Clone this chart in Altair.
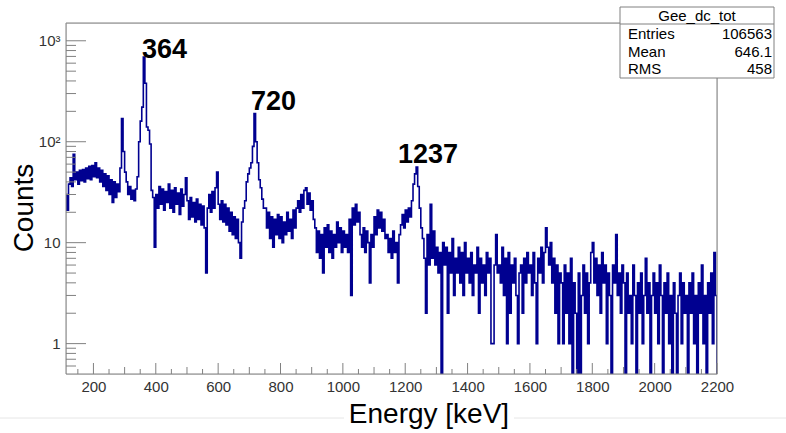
import altair as alt
import pandas as pd

# ---------------- data (5 keV bins) ----------------
BIN_START = 110
BIN_WIDTH = 5
X_MIN, X_MAX = 112, 2200
Y_MIN, Y_MAX = 0.5, 1500

counts_0100 = [30, 21, 38, 44, 36, 75, 42, 50, 38, 52, 41, 53, 40, 55, 43, 57, 42, 58]
counts_0200 = [45, 62, 44, 55, 40, 52, 36, 48, 33, 46, 30, 42, 25, 40, 28, 38, 32, 55, 170, 80]
counts_0300 = [50, 40, 30, 36, 27, 33, 26, 34, 45, 100, 160, 220, 690, 380, 140, 130, 95, 33, 28, 9]
counts_0400 = [30, 22, 36, 24, 34, 21, 32, 25, 38, 22, 33, 20, 35, 24, 31, 19, 34, 23, 30, 44]
counts_0500 = [26, 17, 28, 18, 25, 16, 27, 17, 24, 15, 23, 14, 5, 22, 30, 20, 32, 22, 35, 50]
counts_0600 = [24, 17, 26, 16, 24, 15, 22, 13, 20, 12, 18, 11, 17, 10, 7, 16, 22, 26, 40, 48]
counts_0700 = [55, 62, 90, 190, 100, 62, 42, 35, 27, 22, 22, 14, 20, 11, 18, 9, 17, 12, 19, 11]
counts_0800 = [18, 10, 16, 12, 20, 13, 17, 11, 21, 14, 22, 26, 20, 30, 22, 33, 35, 24, 31, 21]
counts_0900 = [26, 17, 14, 8, 13, 7, 12, 5, 14, 9, 15, 8, 13, 7, 12, 9, 16, 10, 14, 8]
counts_1000 = [13, 9, 12, 8, 17, 3, 22, 15, 24, 16, 20, 12, 9, 14, 8, 13, 10, 4, 12, 9]
counts_1100 = [18, 12, 21, 14, 20, 13, 17, 11, 12, 8, 11, 7, 13, 8, 10, 4, 12, 15, 19, 14]
counts_1200 = [21, 16, 22, 18, 26, 38, 48, 56, 36, 22, 14, 11, 7, 2, 12, 6, 24, 7, 13, 6]
counts_1300 = [9, 5, 8, 0, 10, 6, 9, 2, 8, 5, 11, 3, 7, 5, 9, 4, 8, 3, 10, 5]
counts_1400 = [7, 4, 8, 3, 6, 5, 9, 2, 7, 4, 6, 3, 8, 5, 7, 1, 1, 6, 12, 5]
counts_1500 = [6, 4, 9, 3, 7, 1, 8, 2, 6, 4, 7, 3, 1, 5, 6, 2, 7, 4, 8, 5]
counts_1600 = [6, 3, 8, 4, 1, 7, 5, 9, 4, 8, 14, 9, 6, 10, 4, 7, 2, 6, 1, 5]
counts_1700 = [4, 1, 6, 2, 5, 1, 7, 0, 4, 2, 0, 5, 0, 3, 6, 2, 5, 1, 4, 8]
counts_1800 = [10, 4, 7, 3, 6, 2, 8, 4, 6, 1, 5, 3, 0, 6, 4, 12, 3, 5, 2, 6]
counts_1900 = [4, 0, 5, 2, 3, 1, 6, 3, 0, 4, 2, 5, 1, 3, 7, 2, 4, 0, 3, 5]
counts_2000 = [2, 4, 1, 6, 3, 0, 4, 2, 5, 1, 3, 0, 4, 2, 0, 3, 5, 1, 4, 2]
counts_2100 = [3, 0, 4, 2, 5, 1, 3, 0, 4, 2, 6, 1, 3, 0, 4, 2, 5, 1, 8, 3]

segments = [counts_0100, counts_0200, counts_0300, counts_0400, counts_0500,
            counts_0600, counts_0700, counts_0800, counts_0900, counts_1000,
            counts_1100, counts_1200, counts_1300, counts_1400, counts_1500,
            counts_1600, counts_1700, counts_1800, counts_1900, counts_2000,
            counts_2100]

peak_labels = ["364", "720", "1237"]
stats_title = "Gee_dc_tot"
stats_names = ["Entries", "Mean", "RMS"]
stats_values = ["106563", "646.1", "458"]

x_major = [200, 400, 600, 800, 1000, 1200, 1400, 1600, 1800, 2000, 2200]
y_major = [1, 10, 100, 1000]
y_minor = [0.6, 0.7, 0.8, 0.9, 2, 3, 4, 5, 6, 7, 8, 9,
           20, 30, 40, 50, 60, 70, 80, 90, 200, 300, 400, 500, 600, 700, 800, 900]

# ---------------- build tables ----------------
counts = [v for seg in segments for v in seg]
edges = [BIN_START + BIN_WIDTH * i for i in range(len(counts))]
hist_df = pd.DataFrame({"energy": edges + [X_MAX], "counts": counts + [0]})

x_mid = [v for v in range(200, 2200, 100) if v % 200 != 0]
x_minor = [v for v in range(150, 2200, 100)]

FONT = "Liberation Sans"
AX = "#808080"
W, H = 651, 351

xs = alt.Scale(domain=[X_MIN, X_MAX], nice=False, zero=False)
ys = alt.Scale(type="log", domain=[Y_MIN, Y_MAX], nice=False)

x_axis = alt.Axis(values=x_major, format="d", ticks=False, tickSize=0, domain=False,
                  grid=False, labelFont=FONT, labelFontSize=15, labelColor="#333333",
                  labelPadding=5, labelFlush=False, labelOverlap=False, title=None)
y_axis = alt.Axis(values=y_major, ticks=False, tickSize=0, domain=False, grid=False,
                  labelExpr="datum.value == 1000 ? '10³' : datum.value == 100 ? '10²' : datum.value == 10 ? '10' : '1'",
                  labelFont=FONT, labelFontSize=15, labelColor="#333333",
                  labelPadding=6, labelFlush=False, title=None)

def X():
    return alt.X("energy:Q", scale=xs, axis=x_axis)

def Y():
    return alt.Y("c:Q", scale=ys, axis=y_axis)

anchor = pd.DataFrame({"a": [0]})

hist = (
    alt.Chart(hist_df)
    .transform_calculate(c=f"datum.counts > 0 ? datum.counts : {Y_MIN}")
    .mark_line(interpolate="step-after", color="#000090", strokeWidth=1.6, clip=True)
    .encode(x=X(), y=Y())
)

def yticks(vals, length):
    return alt.Chart(pd.DataFrame({"c": vals})).mark_rule(color=AX, strokeWidth=1).encode(
        y=Y(), x=alt.value(0), x2=alt.value(length))

def xticks(vals, length):
    return alt.Chart(pd.DataFrame({"energy": vals})).mark_rule(color=AX, strokeWidth=1).encode(
        x=X(), y=alt.value(H), y2=alt.value(H - length))

frame = alt.Chart(anchor).mark_rect(fill="white", fillOpacity=0, stroke=AX, strokeWidth=1).encode(
    x=alt.value(0), x2=alt.value(W), y=alt.value(0), y2=alt.value(H))

def label(text, x, y, size=27, weight="bold", align="left", angle=0, color="black"):
    kw = dict(text=text, font=FONT, fontSize=size, fontWeight=weight, align=align,
              baseline="alphabetic", color=color)
    if angle:
        kw["angle"] = angle
    return alt.Chart(anchor).mark_text(**kw).encode(x=alt.value(x), y=alt.value(y))

peaks = [label(peak_labels[0], 76, 35), label(peak_labels[1], 185, 87),
         label(peak_labels[2], 332, 140)]

box = alt.Chart(anchor).mark_rect(fill="white", stroke=AX, strokeWidth=1).encode(
    x=alt.value(554), x2=alt.value(708), y=alt.value(-16), y2=alt.value(55))
box_sep = alt.Chart(anchor).mark_rule(color=AX, strokeWidth=1).encode(
    x=alt.value(554), x2=alt.value(708), y=alt.value(1))
stats = [label(stats_title, 631, -2, size=15, weight="normal", align="center")]
row_y = [16, 34, 51]
for name, val, yy in zip(stats_names, stats_values, row_y):
    stats.append(label(name, 562, yy, size=15, weight="normal", align="left"))
    stats.append(label(val, 706, yy, size=15, weight="normal", align="right"))

ytitle = label("Counts", -33, 185, size=28, weight="normal", align="center", angle=270)
xtitle = label("Energy [keV]", 363, 400, size=28, weight="normal", align="center")

slide1 = alt.Chart(anchor).mark_rule(color="#e6e6e6", strokeWidth=1).encode(
    x=alt.value(-66), x2=alt.value(278), y=alt.value(395))
slide2 = alt.Chart(anchor).mark_rule(color="#e6e6e6", strokeWidth=1).encode(
    x=alt.value(448), x2=alt.value(720), y=alt.value(395))

chart = alt.layer(
    slide1, slide2,
    hist,
    yticks(y_major, 20), yticks(y_minor, 10),
    xticks(x_major, 11), xticks(x_mid, 7), xticks(x_minor, 5),
    frame,
    *peaks,
    box, box_sep, *stats,
    ytitle, xtitle,
).properties(
    width=W, height=H,
    autosize=alt.AutoSizeParams(type="none"),
    padding={"left": 66, "top": 23, "right": 69, "bottom": 59},
).configure_view(strokeWidth=0).configure(background="white")

chart.save("out.html", embed_options={"renderer": "svg", "actions": False})
